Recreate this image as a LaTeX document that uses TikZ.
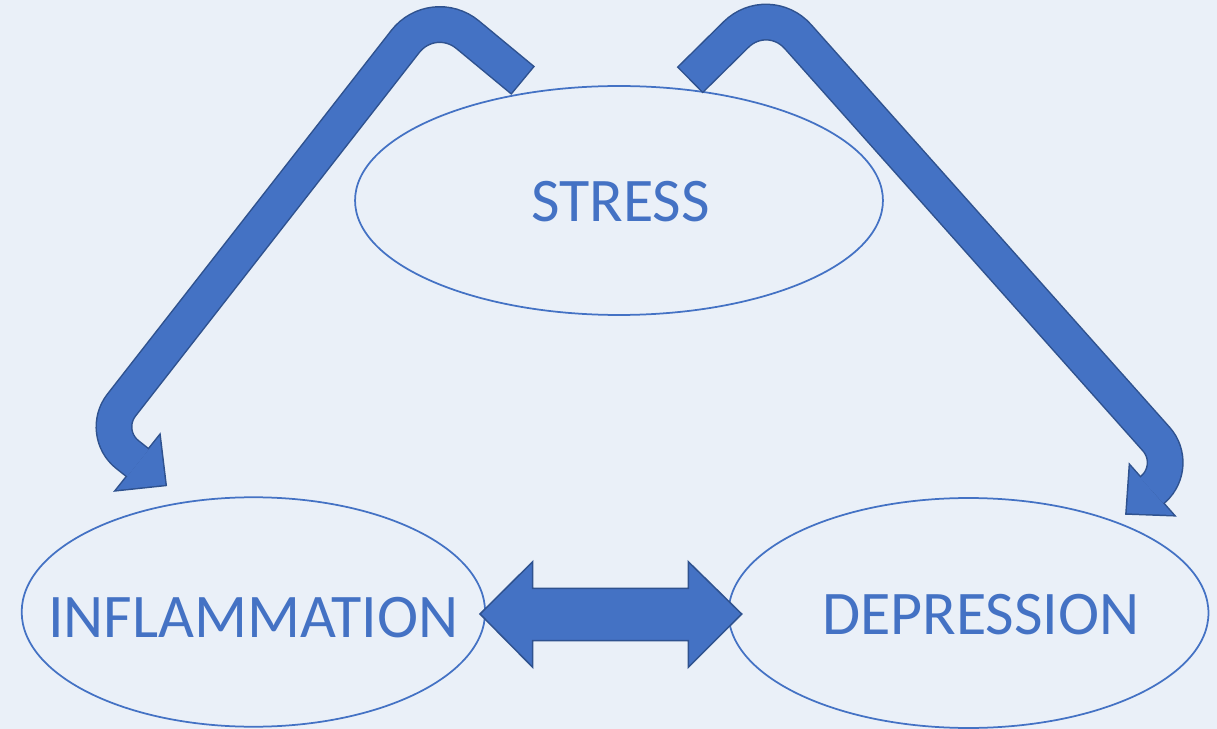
\documentclass[tikz,border=0pt]{standalone}
\usepackage{fontspec}
\setmainfont{Carlito}
\usetikzlibrary{shapes.geometric,calc}

\definecolor{bgblue}{RGB}{234,240,248}
\definecolor{mainblue}{RGB}{68,114,196}
\definecolor{edgeblue}{RGB}{47,82,143}

\tikzset{
  oval/.style={ellipse, draw=mainblue, line width=0.035cm, inner sep=0pt},
  lbl/.style={text=mainblue, font=\fontsize{35.3}{42}\selectfont, anchor=base, inner sep=0pt},
  shaftback/.style={draw=edgeblue, line width=0.74cm},
  shaftfront/.style={draw=mainblue, line width=0.68cm},
  headback/.style={draw=edgeblue, fill=edgeblue, line width=0.06cm, line join=miter},
  headfront/.style={fill=mainblue},
  blockarrow/.style={fill=mainblue, draw=edgeblue, line width=0.03cm, line join=miter},
}

\begin{document}
\begin{tikzpicture}[x=0.02cm, y=-0.02cm]
  \fill[bgblue] (0,0) rectangle (1217,729);
  \useasboundingbox (0,0) rectangle (1217,729);

  \node[oval, minimum width=10.56cm, minimum height=4.58cm] (stress) at (619,200.5) {};
  \node[oval, minimum width=9.27cm, minimum height=4.59cm] (infl) at (253.4,612) {};
  \node[oval, minimum width=9.6cm, minimum height=4.6cm] (depr) at (968.5,613) {};
  \node[lbl] (stresstxt) at (620.5,221.7) {STRESS};
  \node[lbl] (infltxt) at (253.3,637.3) {INFLAMMATION};
  \node[lbl] (deprtxt) at (980.8,634) {DEPRESSION};

  % stress -> inflammation
  \coordinate (lt) at (522,79.7);
  \coordinate (lc1) at (433,6);
  \coordinate (lc2) at (99.9,432.7);
  \coordinate (le) at (138,463);
  \coordinate (lh) at (165.4,484.8);
  \coordinate (lb1) at (159.5,436);
  \coordinate (lb2) at (116.5,490);
  \draw[shaftback] ($(lt)!-0.03cm!(lc1)$) [rounded corners=0.9cm] -- (lc1) [rounded corners=0.7cm] -- (lc2) -- (le);
  \filldraw[headback] (lb1) -- (lh) -- (lb2) -- cycle;
  \draw[shaftfront] (lt) [rounded corners=0.9cm] -- (lc1) [rounded corners=0.7cm] -- (lc2) -- (le);
  \fill[headfront] (lb1) -- (lh) -- (lb2) -- cycle;

  % stress -> depression
  \coordinate (rt) at (690.8,79.2);
  \coordinate (rc1) at (768,3);
  \coordinate (rc2) at (1179.5,465.2);
  \coordinate (re) at (1151.7,490.5);
  \coordinate (rh) at (1126.7,513.3);
  \coordinate (rb1) at (1130,466);
  \coordinate (rb2) at (1173.3,515);
  \draw[shaftback] ($(rt)!-0.03cm!(rc1)$) [rounded corners=0.9cm] -- (rc1) [rounded corners=0.7cm] -- (rc2) -- (re);
  \filldraw[headback] (rb1) -- (rh) -- (rb2) -- cycle;
  \draw[shaftfront] (rt) [rounded corners=0.9cm] -- (rc1) [rounded corners=0.7cm] -- (rc2) -- (re);
  \fill[headfront] (rb1) -- (rh) -- (rb2) -- cycle;

  % inflammation <-> depression
  \coordinate (dl) at (480,614);
  \coordinate (dr) at (741.7,614);
  \draw[blockarrow] (dl) -- ++(52.7,-52.3) -- ++(0,26.6) -- ++(155.6,0) -- ++(0,-26.6)
    -- (dr) -- ++(-53.4,53.3) -- ++(0,-26.6) -- ++(-155.6,0) -- ++(0,26.6) -- cycle;
\end{tikzpicture}
\end{document}
